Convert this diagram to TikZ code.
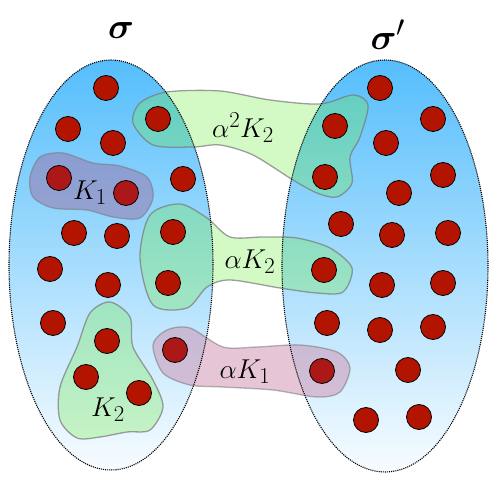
\documentclass[tikz,border=0pt]{standalone}
\usepackage{amsmath}
\usetikzlibrary{shapes.geometric}
\definecolor{skytop}{RGB}{85,190,252}
\definecolor{skybot}{RGB}{248,252,255}
\definecolor{dotred}{RGB}{179,20,0}
\definecolor{dotdark}{RGB}{172,24,24}
\definecolor{blobgreen}{RGB}{110,235,60}
\definecolor{blobpink}{RGB}{207,145,176}
\definecolor{blobviolet}{RGB}{150,128,180}
\definecolor{rimgray}{RGB}{120,120,120}
\begin{document}
\begin{tikzpicture}[>=latex,line join=bevel,
  setfill/.style={ellipse,inner sep=0pt,outer sep=0pt,minimum width=204bp,minimum height=410bp,draw=none,top color=skytop,bottom color=skybot},
  setrim/.style={ellipse,inner sep=0pt,outer sep=0pt,minimum width=204bp,minimum height=410bp,draw=black,densely dotted,line width=1.1bp},
  elem/.style={circle,draw=black,line width=0.8bp,fill=dotred,inner sep=0pt,minimum size=25bp},
  greenblob/.style={draw=rimgray,draw opacity=0.7,line width=1.3bp,fill=blobgreen,fill opacity=0.3},
  pinkblob/.style={draw=rimgray,draw opacity=0.55,line width=1.3bp,fill=blobpink,fill opacity=0.52},
  violetblob/.style={draw=rimgray,draw opacity=0.55,line width=1.3bp,fill=blobviolet,fill opacity=0.6},
  setlabel/.style={font=\Huge,scale=1.45},
  maplabel/.style={font=\Huge,scale=1.1},
]
\useasboundingbox (0bp,0bp) rectangle (498bp,481bp);
%% the two sets
\node (set_l) at (111bp,216bp) [setfill] {};
\node (set_r) at (385bp,215bp) [setfill,minimum width=206bp,minimum height=412bp] {};
%
\filldraw [greenblob] plot [smooth cycle] coordinates {(133bp,358bp) (140bp,378bp) (167bp,389bp) (220bp,390bp) (270bp,381bp) (320bp,377bp) (353bp,386bp) (368bp,376bp) (360bp,344bp) (350bp,324bp) (352bp,298bp) (337bp,284bp) (317bp,288bp) (293bp,301bp) (253bp,326bp) (220bp,336bp) (193bp,334bp) (153bp,336bp)};
\filldraw [greenblob] plot [smooth cycle] coordinates {(140bp,223bp) (150bp,266bp) (180bp,277bp) (207bp,263bp) (230bp,244bp) (263bp,244bp) (297bp,243bp) (330bp,233bp) (352bp,213bp) (343bp,189bp) (317bp,188bp) (280bp,193bp) (230bp,201bp) (207bp,194bp) (187bp,173bp) (153bp,176bp)};
\filldraw [greenblob] plot [smooth cycle] coordinates {(110bp,179bp) (130bp,164bp) (133bp,134bp) (153bp,101bp) (163bp,74bp) (150bp,51bp) (127bp,49bp) (100bp,44bp) (77bp,43bp) (60bp,61bp) (60bp,94bp) (77bp,134bp) (90bp,168bp)};
\filldraw [violetblob] plot [smooth cycle] coordinates {(30bp,304bp) (40bp,324bp) (63bp,328bp) (93bp,318bp) (120bp,315bp) (147bp,304bp) (153bp,283bp) (140bp,263bp) (113bp,264bp) (87bp,271bp) (53bp,273bp) (33bp,284bp)};
\filldraw [pinkblob] plot [smooth cycle] coordinates {(153bp,136bp) (167bp,151bp) (190bp,153bp) (223bp,134bp) (257bp,134bp) (300bp,136bp) (337bp,129bp) (350bp,113bp) (340bp,89bp) (317bp,84bp) (273bp,91bp) (223bp,94bp) (190bp,96bp) (163bp,108bp)};
%
\node (set_l_rim) at (set_l) [setrim] {};
\node (set_r_rim) at (set_r) [setrim,minimum width=206bp,minimum height=412bp] {};
%% elements of sigma
\node (e_l1) at (106bp,393bp) [elem] {};
\node (e_l2) at (68bp,352bp) [elem] {};
\node (e_l3) at (113bp,338bp) [elem] {};
\node (e_l4) at (158bp,362bp) [elem] {};
\node (e_l5) at (59bp,303bp) [elem,fill=dotdark] {};
\node (e_l6) at (126bp,288bp) [elem,fill=dotdark] {};
\node (e_l7) at (183bp,302bp) [elem] {};
\node (e_l8) at (74bp,248bp) [elem] {};
\node (e_l9) at (117bp,245bp) [elem] {};
\node (e_l10) at (173bp,249bp) [elem] {};
\node (e_l11) at (50bp,212bp) [elem] {};
\node (e_l12) at (108bp,196bp) [elem] {};
\node (e_l13) at (168bp,198bp) [elem] {};
\node (e_l14) at (53bp,158bp) [elem] {};
\node (e_l15) at (107bp,140bp) [elem] {};
\node (e_l16) at (86bp,104bp) [elem] {};
\node (e_l17) at (139bp,88bp) [elem] {};
\node (e_l18) at (175bp,131bp) [elem,fill=dotdark] {};
%% elements of sigma'
\node (e_r1) at (380bp,393bp) [elem] {};
\node (e_r2) at (433bp,362bp) [elem] {};
\node (e_r3) at (335bp,355bp) [elem] {};
\node (e_r4) at (386bp,338bp) [elem] {};
\node (e_r5) at (325bp,304bp) [elem] {};
\node (e_r6) at (443bp,306bp) [elem] {};
\node (e_r7) at (399bp,288bp) [elem] {};
\node (e_r8) at (341bp,257bp) [elem] {};
\node (e_r9) at (392bp,246bp) [elem] {};
\node (e_r10) at (448bp,248bp) [elem] {};
\node (e_r11) at (324bp,211bp) [elem] {};
\node (e_r12) at (382bp,196bp) [elem] {};
\node (e_r13) at (443bp,198bp) [elem] {};
\node (e_r14) at (327bp,158bp) [elem] {};
\node (e_r15) at (380bp,151bp) [elem] {};
\node (e_r16) at (433bp,154bp) [elem] {};
\node (e_r17) at (322bp,110bp) [elem,fill=dotdark] {};
\node (e_r18) at (408bp,111bp) [elem] {};
\node (e_r19) at (366bp,61bp) [elem] {};
\node (e_r20) at (419bp,64bp) [elem] {};
%% labels
\node (lbl_sigma) at (121bp,450bp) [setlabel] {$\boldsymbol{\sigma}$};
\node (lbl_sigmap) at (388bp,446bp) [setlabel] {$\boldsymbol{\sigma}'$};
\node (lbl_a2k2) at (243bp,353bp) [maplabel] {$\alpha^2K_2$};
\node (lbl_ak2) at (250bp,219bp) [maplabel] {$\alpha K_2$};
\node (lbl_ak1) at (245bp,109bp) [maplabel] {$\alpha K_1$};
\node (lbl_k1) at (90bp,288bp) [maplabel] {$K_1$};
\node (lbl_k2) at (108bp,71bp) [maplabel] {$K_2$};
%
\end{tikzpicture}
\end{document}
